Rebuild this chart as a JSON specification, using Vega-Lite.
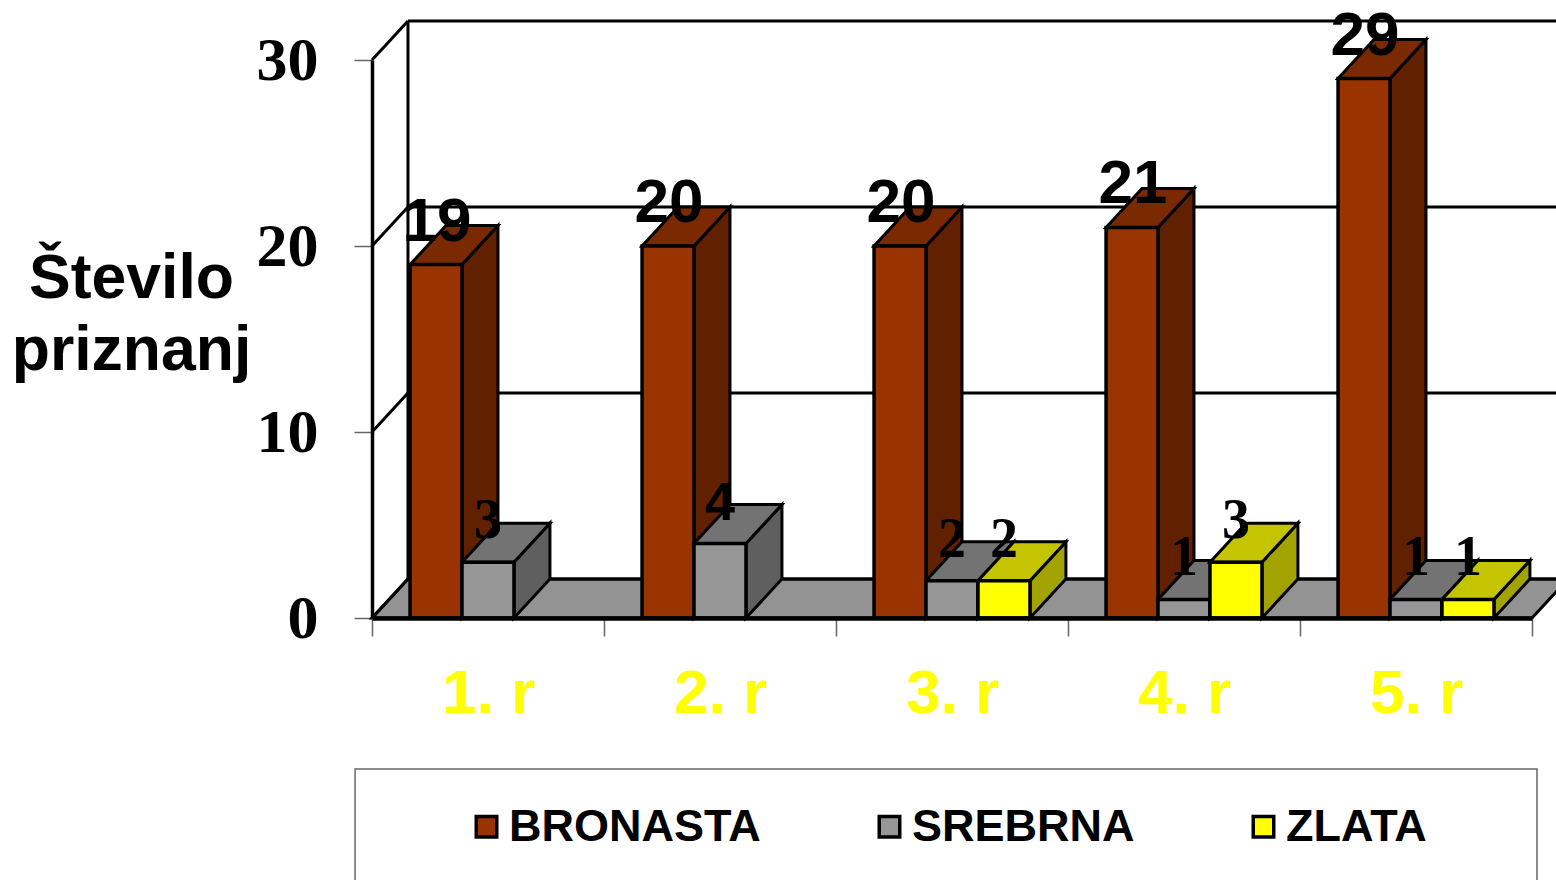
{
"$schema":"https://vega.github.io/schema/vega-lite/v6.json",
"width":1160,"height":558,
"autosize":"none",
"padding":{"left":372,"top":60,"right":24,"bottom":262},
"background":"white",
"config":{"view":{"stroke":null}},
"datasets":{
"bars":[
{"year":"1. r","medal":"BRONASTA","value":19},{"year":"1. r","medal":"SREBRNA","value":3},
{"year":"2. r","medal":"BRONASTA","value":20},{"year":"2. r","medal":"SREBRNA","value":4},
{"year":"3. r","medal":"BRONASTA","value":20},{"year":"3. r","medal":"SREBRNA","value":2},{"year":"3. r","medal":"ZLATA","value":2},
{"year":"4. r","medal":"BRONASTA","value":21},{"year":"4. r","medal":"SREBRNA","value":1},{"year":"4. r","medal":"ZLATA","value":3},
{"year":"5. r","medal":"BRONASTA","value":29},{"year":"5. r","medal":"SREBRNA","value":1},{"year":"5. r","medal":"ZLATA","value":1}],
"levels":[{"v":0},{"v":10},{"v":20},{"v":30}],
"floor":[{"t":0},{"t":1}]
},
"layer":[
{"data":{"name":"floor"},
 "transform":[{"calculate":"datum.t*0.155","as":"xa"},{"calculate":"5+datum.t*0.155","as":"xb"},{"calculate":"datum.t*2.097","as":"yy"}],
 "mark":{"type":"area","orient":"horizontal","color":"#939393","stroke":"black","strokeWidth":3},
 "encoding":{
  "x":{"field":"xa","type":"quantitative","scale":{"domain":[0,5],"nice":false,"zero":false},
   "axis":{"values":[0,1,2,3,4,5],"title":null,"grid":false,"domainColor":"black","domainWidth":4.5,"tickColor":"#666666","tickWidth":1.5,"tickSize":18,
    "labelExpr":"datum.value<5 ? (datum.value+1)+'. r' : ''","labelOffset":116,"labelPadding":27,"labelFont":"Liberation Sans","labelFontWeight":"bold","labelFontSize":62,"labelColor":"#FFFF00","labelFlush":false,"labelOverlap":false,"labelBound":false,"labelLimit":0,"labelAngle":0,"zindex":1}},
  "x2":{"field":"xb"},
  "y":{"field":"yy","type":"quantitative","scale":{"domain":[0,30],"nice":false,"zero":false},
   "axis":{"values":[0,10,20,30],"grid":false,"domainColor":"black","domainWidth":3.5,"tickColor":"#666666","tickWidth":1.5,"tickSize":18,"labelPadding":36,"labelFont":"Liberation Serif","labelFontWeight":"bold","labelFontSize":62,"labelColor":"black","labelFlush":false,"labelOverlap":false,"labelBound":false,"labelLimit":0,
    "title":["Število","priznanj"],"titleAngle":0,"titleAlign":"center","titleBaseline":"alphabetic","titleX":-241,"titleY":237,"titleFont":"Liberation Sans","titleFontWeight":"bold","titleFontSize":62.5,"titleLineHeight":72,"titleColor":"black","titleLimit":0}}
 }},
{"data":{"name":"levels"},
 "transform":[{"calculate":"datum.v+2.097","as":"yb"},{"calculate":"0.155","as":"xa"},{"calculate":"5.2","as":"xb"}],
 "mark":{"type":"rule","color":"black","strokeWidth":3},
 "encoding":{"x":{"field":"xa","type":"quantitative","scale":{"domain":[0,5],"nice":false,"zero":false}},"x2":{"field":"xb"},
  "y":{"field":"yb","type":"quantitative","scale":{"domain":[0,30],"nice":false,"zero":false}}}},
{"data":{"name":"levels"},
 "transform":[{"calculate":"datum.v+2.097","as":"yb"},{"calculate":"0","as":"xa"},{"calculate":"0.155","as":"xb"}],
 "mark":{"type":"rule","color":"black","strokeWidth":3},
 "encoding":{"x":{"field":"xa","type":"quantitative","scale":{"domain":[0,5],"nice":false,"zero":false}},"x2":{"field":"xb"},
  "y":{"field":"v","type":"quantitative","scale":{"domain":[0,30],"nice":false,"zero":false}},"y2":{"field":"yb"}}},
{"data":{"name":"levels"},
 "transform":[{"filter":"datum.v==30"},{"calculate":"datum.v+2.097","as":"yb"},{"calculate":"2.097","as":"ya"},{"calculate":"0.155","as":"xa"}],
 "mark":{"type":"rule","color":"black","strokeWidth":3},
 "encoding":{"x":{"field":"xa","type":"quantitative","scale":{"domain":[0,5],"nice":false,"zero":false}},
  "y":{"field":"yb","type":"quantitative","scale":{"domain":[0,30],"nice":false,"zero":false}},"y2":{"field":"ya"}}},
{"data":{"name":"levels"},
 "transform":[{"filter":"datum.v==0"},{"calculate":"-0.073","as":"fa"},{"calculate":"5.0216","as":"fb"},{"calculate":"-8.12","as":"ga"},{"calculate":"-20","as":"gb"}],
 "mark":{"type":"rect","filled":false,"stroke":"#666666","strokeWidth":1.5},
 "encoding":{"x":{"field":"fa","type":"quantitative","scale":{"domain":[0,5],"nice":false,"zero":false}},"x2":{"field":"fb"},
  "y":{"field":"ga","type":"quantitative","scale":{"domain":[0,30],"nice":false,"zero":false}},"y2":{"field":"gb"}}},
{"data":{"name":"bars"},
 "transform":[
  {"calculate":"indexof(['1. r','2. r','3. r','4. r','5. r'],datum.year)+0.164+indexof(['BRONASTA','SREBRNA','ZLATA'],datum.medal)*0.224","as":"x0"},
  {"calculate":"datum.x0+0.224","as":"x1"},{"calculate":"0","as":"a0"},{"calculate":"1","as":"a1"},
  {"fold":["a0","a1"],"as":["k","t"]},
  {"calculate":"datum.x1+datum.t*0.155","as":"px"},{"calculate":"datum.value+datum.t*2.097","as":"top"},{"calculate":"datum.t*2.097","as":"base"},
  {"calculate":"datum.year+datum.medal","as":"id"}],
 "mark":{"type":"area","stroke":"black","strokeWidth":3},
 "encoding":{"x":{"field":"px","type":"quantitative","scale":{"domain":[0,5],"nice":false,"zero":false}},
  "y":{"field":"top","type":"quantitative","scale":{"domain":[0,30],"nice":false,"zero":false}},"y2":{"field":"base"},
  "detail":{"field":"id"},
  "color":{"field":"medal","type":"nominal","legend":null,"scale":{"domain":["BRONASTA","SREBRNA","ZLATA"],"range":["#612000","#5F5F5F","#A3A300"]}}}},
{"data":{"name":"bars"},
 "transform":[
  {"calculate":"indexof(['1. r','2. r','3. r','4. r','5. r'],datum.year)+0.164+indexof(['BRONASTA','SREBRNA','ZLATA'],datum.medal)*0.224","as":"x0"},
  {"calculate":"datum.x0+0.224","as":"x1"},{"calculate":"0","as":"a0"},{"calculate":"1","as":"a1"},
  {"fold":["a0","a1"],"as":["k","t"]},
  {"calculate":"datum.x0+datum.t*0.155","as":"pa"},{"calculate":"datum.x1+datum.t*0.155","as":"pb"},{"calculate":"datum.value+datum.t*2.097","as":"top"},
  {"calculate":"datum.year+datum.medal","as":"id"}],
 "mark":{"type":"area","orient":"horizontal","stroke":"black","strokeWidth":3},
 "encoding":{"x":{"field":"pa","type":"quantitative","scale":{"domain":[0,5],"nice":false,"zero":false}},"x2":{"field":"pb"},
  "y":{"field":"top","type":"quantitative","scale":{"domain":[0,30],"nice":false,"zero":false}},
  "detail":{"field":"id"},
  "color":{"field":"medal","type":"nominal","legend":null,"scale":{"domain":["BRONASTA","SREBRNA","ZLATA"],"range":["#7A2900","#737373","#C4C400"]}}}},
{"data":{"name":"bars"},
 "transform":[
  {"calculate":"indexof(['1. r','2. r','3. r','4. r','5. r'],datum.year)+0.164+indexof(['BRONASTA','SREBRNA','ZLATA'],datum.medal)*0.224","as":"x0"},
  {"calculate":"datum.x0+0.224","as":"x1"},{"calculate":"0","as":"zero"}],
 "mark":{"type":"rect","stroke":"black","strokeWidth":3.5},
 "encoding":{"x":{"field":"x0","type":"quantitative","scale":{"domain":[0,5],"nice":false,"zero":false}},"x2":{"field":"x1"},
  "y":{"field":"value","type":"quantitative","scale":{"domain":[0,30],"nice":false,"zero":false}},"y2":{"field":"zero"},
  "color":{"field":"medal","type":"nominal","scale":{"domain":["BRONASTA","SREBRNA","ZLATA"],"range":["#993300","#969696","#FFFF00"]},
   "legend":{"orient":"none","legendX":92,"legendY":744,"direction":"horizontal","columns":3,"columnPadding":106,"title":null,"symbolType":"square","symbolSize":420,"symbolStrokeColor":"black","symbolStrokeWidth":3.5,"symbolOpacity":1,"labelFont":"Liberation Sans","labelFontWeight":"bold","labelFontSize":45,"labelColor":"black","labelLimit":0,"labelOffset":0,"padding":0}}}},
{"data":{"name":"bars"},
 "transform":[
  {"filter":"datum.medal=='BRONASTA'"},
  {"calculate":"indexof(['1. r','2. r','3. r','4. r','5. r'],datum.year)+0.28","as":"xc"}],
 "mark":{"type":"text","font":"Liberation Sans","fontWeight":"bold","fontSize":62,"color":"black","align":"center","baseline":"alphabetic","dy":-24},
 "encoding":{"x":{"field":"xc","type":"quantitative","scale":{"domain":[0,5],"nice":false,"zero":false}},
  "y":{"field":"value","type":"quantitative","scale":{"domain":[0,30],"nice":false,"zero":false}},
  "text":{"field":"value","type":"quantitative"}}},
{"data":{"name":"bars"},
 "transform":[
  {"filter":"datum.value==4"},
  {"calculate":"indexof(['1. r','2. r','3. r','4. r','5. r'],datum.year)+0.5","as":"xc"}],
 "mark":{"type":"text","font":"Liberation Sans","fontWeight":"bold","fontSize":54,"color":"black","align":"center","baseline":"alphabetic","dy":-24},
 "encoding":{"x":{"field":"xc","type":"quantitative","scale":{"domain":[0,5],"nice":false,"zero":false}},
  "y":{"field":"value","type":"quantitative","scale":{"domain":[0,30],"nice":false,"zero":false}},
  "text":{"field":"value","type":"quantitative"}}},
{"data":{"name":"bars"},
 "transform":[
  {"filter":"datum.medal!='BRONASTA' && datum.value!=4"},
  {"calculate":"indexof(['1. r','2. r','3. r','4. r','5. r'],datum.year)+0.276+indexof(['BRONASTA','SREBRNA','ZLATA'],datum.medal)*0.224","as":"xc"}],
 "mark":{"type":"text","font":"Liberation Serif","fontWeight":"bold","fontSize":56,"color":"black","align":"center","baseline":"alphabetic","dy":-24},
 "encoding":{"x":{"field":"xc","type":"quantitative","scale":{"domain":[0,5],"nice":false,"zero":false}},
  "y":{"field":"value","type":"quantitative","scale":{"domain":[0,30],"nice":false,"zero":false}},
  "text":{"field":"value","type":"quantitative"}}}
],
"resolve":{"scale":{"color":"independent"},"legend":{"color":"independent"}}
}
